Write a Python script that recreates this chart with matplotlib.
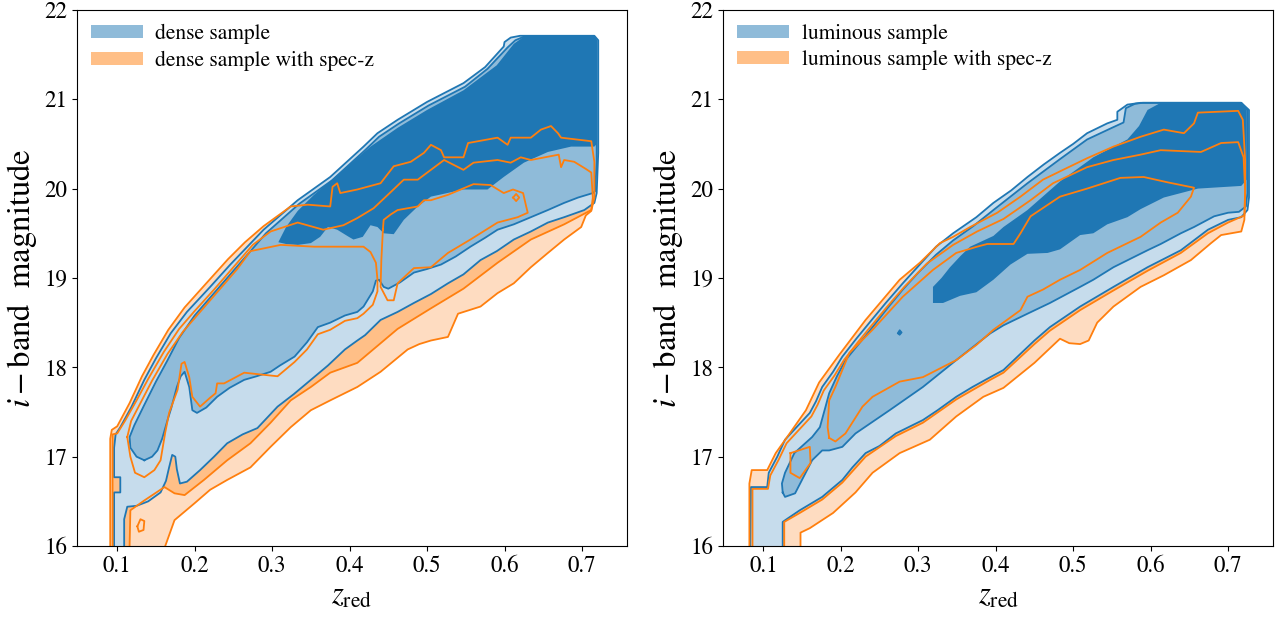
import matplotlib
matplotlib.use("Agg")
import matplotlib.pyplot as plt
from matplotlib.patches import Patch

plt.rcParams["font.family"] = "STIXGeneral"
plt.rcParams["mathtext.fontset"] = "stix"

# contour outlines, (z_red, i-band magnitude)
# ---------------- dense sample ----------------
dense_blue_1 = [
    (0.096, 15.9), (0.096, 16.6), (0.104, 16.6), (0.104, 16.77), (0.096, 16.77),
    (0.096, 17.1), (0.098, 17.25), (0.104, 17.33), (0.118, 17.55), (0.135, 17.86),
    (0.15, 18.1), (0.169, 18.38), (0.19, 18.62), (0.22, 18.9), (0.246, 19.15),
    (0.289, 19.54), (0.333, 19.87), (0.375, 20.13), (0.418, 20.47), (0.436, 20.62),
    (0.462, 20.77), (0.5, 20.97), (0.547, 21.18), (0.575, 21.36), (0.599, 21.59),
    (0.6, 21.64), (0.608, 21.69), (0.62, 21.71), (0.716, 21.71), (0.721, 21.66),
    (0.721, 20.4), (0.719, 19.95), (0.716, 19.84), (0.703, 19.76), (0.677, 19.68),
    (0.656, 19.62), (0.634, 19.52), (0.612, 19.43), (0.59, 19.3), (0.569, 19.2),
    (0.547, 19.04), (0.527, 18.94), (0.505, 18.82), (0.483, 18.72), (0.462, 18.62),
    (0.44, 18.53), (0.42, 18.36), (0.41, 18.3), (0.394, 18.2), (0.372, 18.02),
    (0.35, 17.86), (0.328, 17.7), (0.307, 17.56), (0.281, 17.32), (0.262, 17.25),
    (0.242, 17.15), (0.225, 17.0), (0.207, 16.85), (0.19, 16.72), (0.181, 16.7),
    (0.177, 16.86), (0.175, 17.0), (0.171, 17.02), (0.167, 16.88), (0.163, 16.73),
    (0.156, 16.6), (0.14, 16.5), (0.125, 16.45), (0.113, 16.44), (0.109, 16.3),
    (0.109, 15.9),
]
dense_blue_2 = [
    (0.135, 16.96), (0.125, 17.0), (0.117, 17.1), (0.116, 17.22), (0.122, 17.35),
    (0.135, 17.58), (0.15, 17.84), (0.165, 18.08), (0.18, 18.33), (0.2, 18.58),
    (0.228, 18.86), (0.252, 19.1), (0.292, 19.5), (0.335, 19.83), (0.377, 20.09),
    (0.42, 20.43), (0.438, 20.58), (0.464, 20.73), (0.502, 20.93), (0.549, 21.14),
    (0.578, 21.34), (0.604, 21.58), (0.614, 21.66), (0.625, 21.7), (0.716, 21.7),
    (0.719, 21.65), (0.719, 20.3), (0.717, 19.97), (0.714, 19.95), (0.695, 19.9),
    (0.677, 19.84), (0.656, 19.76), (0.634, 19.68), (0.612, 19.6), (0.591, 19.54),
    (0.575, 19.45), (0.556, 19.35), (0.537, 19.24), (0.518, 19.15), (0.5, 19.1),
    (0.483, 19.06), (0.465, 18.95), (0.45, 18.88), (0.444, 18.9), (0.438, 18.98),
    (0.434, 18.97), (0.43, 18.85), (0.418, 18.68), (0.41, 18.62), (0.394, 18.58),
    (0.375, 18.5), (0.359, 18.45), (0.345, 18.28), (0.329, 18.12), (0.31, 18.02),
    (0.298, 17.95), (0.28, 17.9), (0.264, 17.86), (0.245, 17.77), (0.229, 17.67),
    (0.215, 17.55), (0.203, 17.49), (0.197, 17.52), (0.193, 17.78), (0.187, 17.95),
    (0.182, 17.9), (0.177, 17.78), (0.17, 17.55), (0.165, 17.41), (0.158, 17.2),
    (0.152, 17.07), (0.145, 17.0),
]
dense_blue_3 = [
    (0.308, 19.4), (0.318, 19.57), (0.333, 19.75), (0.354, 19.93), (0.388, 20.18),
    (0.427, 20.47), (0.462, 20.68), (0.5, 20.88), (0.547, 21.1), (0.59, 21.38),
    (0.612, 21.62), (0.625, 21.7), (0.716, 21.7), (0.719, 21.65), (0.719, 20.5),
    (0.716, 20.47), (0.686, 20.47), (0.656, 20.41), (0.625, 20.29), (0.599, 20.13),
    (0.578, 19.99), (0.547, 19.99), (0.505, 19.91), (0.488, 19.8), (0.47, 19.65),
    (0.457, 19.49), (0.444, 19.5), (0.436, 19.57), (0.427, 19.59), (0.417, 19.46),
    (0.405, 19.43), (0.399, 19.46), (0.384, 19.54), (0.372, 19.57), (0.362, 19.46),
    (0.35, 19.39), (0.333, 19.37), (0.318, 19.38),
]
dense_orange_1 = [
    (0.091, 15.9), (0.091, 17.2), (0.093, 17.3), (0.1, 17.34), (0.116, 17.6),
    (0.132, 17.9), (0.147, 18.14), (0.166, 18.42), (0.187, 18.67), (0.216, 18.95),
    (0.243, 19.21), (0.265, 19.4), (0.289, 19.58), (0.324, 19.8),
    (0.346, 19.82), (0.375, 19.8), (0.378, 20.02), (0.384, 20.06), (0.388, 19.95),
    (0.41, 19.99), (0.44, 20.06), (0.457, 20.25), (0.479, 20.3), (0.496, 20.4),
    (0.505, 20.49), (0.518, 20.43), (0.522, 20.35), (0.547, 20.35), (0.553, 20.51),
    (0.591, 20.57), (0.604, 20.49), (0.608, 20.57), (0.634, 20.57), (0.647, 20.66),
    (0.66, 20.7), (0.669, 20.62), (0.673, 20.57), (0.712, 20.53), (0.716, 20.3),
    (0.716, 19.9), (0.712, 19.75), (0.705, 19.7), (0.699, 19.57), (0.677, 19.43),
    (0.656, 19.28), (0.634, 19.12), (0.612, 18.94), (0.591, 18.83), (0.569, 18.68),
    (0.54, 18.6), (0.527, 18.34), (0.505, 18.3), (0.49, 18.26), (0.475, 18.2),
    (0.44, 17.95), (0.41, 17.78), (0.375, 17.63), (0.35, 17.52), (0.324, 17.33),
    (0.298, 17.11), (0.272, 16.88), (0.242, 16.74), (0.22, 16.63), (0.2, 16.48),
    (0.174, 16.29), (0.162, 16.0), (0.162, 15.9),
]
dense_orange_2 = [
    (0.094, 15.9), (0.094, 17.25), (0.1, 17.26), (0.11, 17.4), (0.125, 17.63),
    (0.14, 17.87), (0.16, 18.17), (0.18, 18.43), (0.2, 18.63), (0.225, 18.87),
    (0.25, 19.12), (0.275, 19.37), (0.298, 19.52), (0.333, 19.62), (0.366, 19.54),
    (0.392, 19.59), (0.41, 19.67), (0.431, 19.78), (0.453, 19.96), (0.47, 20.1),
    (0.488, 20.1), (0.522, 20.32), (0.547, 20.21), (0.56, 20.29), (0.591, 20.32),
    (0.608, 20.29), (0.621, 20.35), (0.634, 20.32), (0.67, 20.38), (0.673, 20.24),
    (0.677, 20.32), (0.69, 20.3), (0.705, 20.22), (0.712, 20.18), (0.714, 19.9),
    (0.712, 19.76), (0.677, 19.6), (0.634, 19.43), (0.591, 19.17), (0.547, 18.88),
    (0.505, 18.66), (0.462, 18.43), (0.41, 18.05), (0.375, 17.94), (0.35, 17.78),
    (0.324, 17.63), (0.298, 17.38), (0.272, 17.15), (0.242, 16.96), (0.212, 16.74),
    (0.187, 16.57), (0.174, 16.59), (0.161, 16.66), (0.135, 16.51), (0.117, 16.4),
    (0.116, 16.0), (0.116, 15.9),
]
dense_orange_3a = [
    (0.113, 17.22), (0.118, 17.4), (0.13, 17.6), (0.145, 17.85), (0.165, 18.15),
    (0.185, 18.4), (0.21, 18.65), (0.235, 18.9), (0.255, 19.1), (0.272, 19.3),
    (0.311, 19.37), (0.354, 19.35), (0.418, 19.35), (0.427, 19.29), (0.434, 19.17),
    (0.436, 18.98), (0.436, 18.85), (0.43, 18.7), (0.418, 18.6), (0.41, 18.55),
    (0.394, 18.52), (0.375, 18.42), (0.359, 18.37), (0.345, 18.2), (0.329, 18.06),
    (0.307, 17.9), (0.285, 17.92), (0.264, 17.94), (0.238, 17.82), (0.229, 17.82),
    (0.227, 17.71), (0.22, 17.66), (0.207, 17.56), (0.197, 17.67), (0.193, 17.89),
    (0.187, 18.06), (0.183, 18.04), (0.178, 17.75), (0.167, 17.49), (0.162, 17.27),
    (0.156, 16.96), (0.148, 16.85), (0.135, 16.77), (0.123, 16.82), (0.117, 17.0),
    (0.113, 17.22),
]
dense_orange_3b = [
    (0.443, 19.54), (0.444, 19.65), (0.453, 19.71), (0.462, 19.76), (0.488, 19.8),
    (0.496, 19.87), (0.505, 19.87), (0.527, 19.93), (0.56, 20.05), (0.582, 20.04),
    (0.599, 19.95), (0.611, 19.99), (0.624, 19.95), (0.628, 19.8), (0.63, 19.73),
    (0.617, 19.68), (0.591, 19.62), (0.556, 19.43), (0.527, 19.28), (0.505, 19.12),
    (0.483, 19.11), (0.462, 18.94), (0.457, 18.75), (0.449, 18.75), (0.44, 18.9),
    (0.441, 19.2), (0.443, 19.54),
]
dense_orange_dots = [
    [(0.611, 19.9), (0.615, 19.94), (0.619, 19.9), (0.615, 19.86), (0.611, 19.9)],
    [(0.126, 16.22), (0.13, 16.3), (0.135, 16.28), (0.134, 16.18), (0.128, 16.16),
     (0.126, 16.22)],
]

# ---------------- luminous sample ----------------
lum_blue_1 = [
    (0.083, 15.9), (0.084, 16.66), (0.105, 16.66), (0.107, 16.82), (0.118, 17.0),
    (0.128, 17.19), (0.145, 17.35), (0.16, 17.49), (0.168, 17.62), (0.176, 17.78),
    (0.19, 17.95), (0.202, 18.12), (0.22, 18.32), (0.237, 18.5), (0.258, 18.72),
    (0.28, 18.94), (0.302, 19.15), (0.323, 19.35), (0.345, 19.5), (0.375, 19.68),
    (0.397, 19.84), (0.42, 19.98), (0.441, 20.13), (0.462, 20.27), (0.483, 20.4),
    (0.5, 20.5), (0.518, 20.62), (0.544, 20.73), (0.557, 20.77), (0.557, 20.86),
    (0.57, 20.94), (0.587, 20.96), (0.717, 20.96), (0.727, 20.88), (0.727, 19.9),
    (0.725, 19.76), (0.717, 19.68), (0.7, 19.65), (0.674, 19.54), (0.639, 19.31),
    (0.596, 19.12), (0.552, 18.9), (0.509, 18.68), (0.47, 18.45), (0.45, 18.3),
    (0.41, 17.97), (0.393, 17.89), (0.37, 17.78), (0.349, 17.67), (0.325, 17.52),
    (0.306, 17.41), (0.271, 17.26), (0.25, 17.12), (0.232, 17.04), (0.215, 16.88),
    (0.202, 16.74), (0.176, 16.55), (0.147, 16.4), (0.13, 16.3), (0.125, 16.27),
    (0.125, 15.9),
]
lum_blue_2 = [
    (0.125, 16.6), (0.124, 16.7), (0.128, 16.82), (0.14, 17.04), (0.163, 17.22),
    (0.173, 17.33), (0.18, 17.55), (0.185, 17.71), (0.195, 17.9), (0.206, 18.08),
    (0.225, 18.28), (0.241, 18.45), (0.26, 18.66), (0.28, 18.87), (0.3, 19.06),
    (0.323, 19.26), (0.345, 19.42), (0.371, 19.58), (0.397, 19.76), (0.441, 20.06),
    (0.483, 20.33), (0.518, 20.55), (0.55, 20.68), (0.565, 20.74), (0.568, 20.9),
    (0.58, 20.95), (0.59, 20.96), (0.717, 20.96), (0.725, 20.88), (0.725, 19.95),
    (0.723, 19.8), (0.714, 19.74), (0.7, 19.73), (0.682, 19.69), (0.656, 19.57),
    (0.639, 19.5), (0.613, 19.38), (0.596, 19.31), (0.552, 19.12), (0.526, 18.98),
    (0.509, 18.9), (0.47, 18.72), (0.441, 18.6), (0.41, 18.47), (0.393, 18.38),
    (0.349, 18.08), (0.306, 17.78), (0.263, 17.52), (0.219, 17.26), (0.202, 17.11),
    (0.185, 17.07), (0.176, 17.07), (0.163, 16.96), (0.141, 16.59), (0.128, 16.55),
    (0.125, 16.6),
]
lum_blue_3 = [
    (0.319, 18.72), (0.319, 18.9), (0.33, 19.0), (0.341, 19.12), (0.355, 19.25),
    (0.367, 19.35), (0.397, 19.47), (0.41, 19.57), (0.441, 19.76), (0.483, 20.08),
    (0.526, 20.35), (0.57, 20.55), (0.585, 20.7), (0.596, 20.88), (0.613, 20.96),
    (0.717, 20.96), (0.724, 20.9), (0.724, 20.1), (0.717, 20.03), (0.661, 20.0),
    (0.617, 19.9), (0.587, 19.77), (0.57, 19.68), (0.544, 19.6), (0.526, 19.5),
    (0.509, 19.48), (0.483, 19.32), (0.467, 19.28), (0.441, 19.27), (0.419, 19.15),
    (0.397, 18.98), (0.375, 18.84), (0.354, 18.8), (0.332, 18.72),
]
lum_blue_dot = [(0.273, 18.38), (0.276, 18.42), (0.279, 18.39), (0.276, 18.36)]
lum_orange_1 = [
    (0.082, 15.9), (0.082, 16.7), (0.085, 16.85), (0.105, 16.85), (0.116, 17.04),
    (0.134, 17.26), (0.155, 17.52), (0.172, 17.83), (0.198, 18.14), (0.232, 18.53),
    (0.276, 18.98), (0.302, 19.17), (0.328, 19.39), (0.345, 19.46), (0.367, 19.57),
    (0.402, 19.73), (0.432, 19.91), (0.461, 20.1), (0.487, 20.21), (0.518, 20.34),
    (0.552, 20.47), (0.587, 20.58), (0.617, 20.66), (0.643, 20.62), (0.656, 20.73),
    (0.661, 20.85), (0.713, 20.87), (0.719, 20.77), (0.722, 20.32), (0.722, 19.9),
    (0.721, 19.65), (0.717, 19.52), (0.691, 19.48), (0.678, 19.39), (0.652, 19.2),
    (0.617, 19.03), (0.587, 18.9), (0.552, 18.68), (0.531, 18.5), (0.52, 18.3),
    (0.509, 18.26), (0.495, 18.27), (0.483, 18.32), (0.45, 18.05), (0.41, 17.77),
    (0.384, 17.67), (0.349, 17.45), (0.315, 17.19), (0.276, 17.04), (0.241, 16.82),
    (0.219, 16.6), (0.19, 16.37), (0.16, 16.2), (0.148, 16.15), (0.148, 15.9),
]
lum_orange_2 = [
    (0.086, 15.9), (0.086, 16.64), (0.106, 16.64), (0.109, 16.79), (0.12, 16.97),
    (0.13, 17.15), (0.147, 17.31), (0.162, 17.45), (0.17, 17.58), (0.178, 17.74),
    (0.192, 17.91), (0.204, 18.08), (0.222, 18.28), (0.239, 18.46), (0.26, 18.68),
    (0.282, 18.9), (0.311, 19.16), (0.345, 19.37), (0.376, 19.52), (0.41, 19.66),
    (0.445, 19.87), (0.474, 20.06), (0.518, 20.24), (0.552, 20.32), (0.587, 20.38),
    (0.613, 20.43), (0.665, 20.41), (0.691, 20.51), (0.713, 20.52), (0.72, 20.35),
    (0.722, 19.98), (0.721, 19.7), (0.7, 19.62), (0.674, 19.5), (0.639, 19.28),
    (0.596, 19.08), (0.552, 18.86), (0.509, 18.64), (0.47, 18.41), (0.45, 18.26),
    (0.41, 17.94), (0.393, 17.86), (0.349, 17.64), (0.306, 17.38), (0.271, 17.23),
    (0.232, 17.0), (0.202, 16.71), (0.176, 16.52), (0.147, 16.37), (0.127, 16.27),
    (0.127, 15.9),
]
lum_orange_3 = [
    (0.185, 17.21), (0.183, 17.33), (0.185, 17.63), (0.193, 17.78), (0.211, 18.16),
    (0.241, 18.42), (0.28, 18.79), (0.319, 19.09), (0.349, 19.28), (0.376, 19.35),
    (0.389, 19.38), (0.423, 19.38), (0.432, 19.5), (0.445, 19.69), (0.483, 19.91),
    (0.518, 20.0), (0.561, 20.12), (0.591, 20.13), (0.622, 20.07), (0.656, 20.01),
    (0.652, 19.91), (0.635, 19.73), (0.613, 19.62), (0.587, 19.46), (0.544, 19.28),
    (0.509, 19.09), (0.483, 18.98), (0.461, 18.87), (0.441, 18.79), (0.432, 18.64),
    (0.397, 18.42), (0.375, 18.25), (0.349, 18.08), (0.306, 17.89), (0.276, 17.84),
    (0.241, 17.67), (0.228, 17.56), (0.206, 17.26), (0.193, 17.17), (0.185, 17.21),
]
lum_orange_dots = [
    [(0.135, 17.04), (0.16, 17.11), (0.161, 16.93), (0.147, 16.76), (0.135, 16.82),
     (0.135, 17.04)],
]

BLUE = "#1f77b4"
ORANGE = "#ff7f0e"
BLUE_FILLS = ["#c6dcec", "#8fbbd9", "#1f77b4"]
ORANGE_FILLS = ["#fedcc1", "#ffbf87"]


def _xy(pts):
    return [p[0] for p in pts], [p[1] for p in pts]


def _closed(pts):
    return pts + [pts[0]]


def draw_panel(ax, blue, orange, orange_lines, blue_extra, label):
    for pts, col in zip(orange, ORANGE_FILLS):
        ax.fill(*_xy(pts), color=col, lw=0)
    for pts, col in zip(blue, BLUE_FILLS):
        ax.fill(*_xy(pts), color=col, lw=0)
    for pts in blue_extra:
        ax.fill(*_xy(pts), color=BLUE, lw=0.8, edgecolor=BLUE)
    for pts in blue[:2]:
        ax.plot(*_xy(_closed(pts)), color=BLUE, lw=1.3)
    for pts in orange + orange_lines:
        ax.plot(*_xy(_closed(pts)), color=ORANGE, lw=1.3)

    ax.set_xlim(0.048, 0.758)
    ax.set_ylim(16, 22)
    ax.set_xticks([0.1, 0.2, 0.3, 0.4, 0.5, 0.6, 0.7])
    ax.set_yticks([16, 17, 18, 19, 20, 21, 22])
    ax.tick_params(labelsize=16.5)
    ax.set_xlabel(r"$z_{\rm red}$", fontsize=22)
    ax.set_ylabel(r"$i-$band  magnitude", fontsize=23.5)

    handles = [Patch(facecolor=BLUE_FILLS[1]), Patch(facecolor=ORANGE_FILLS[1])]
    ax.legend(handles, [f"{label} sample", f"{label} sample with spec-z"],
              loc="upper left", frameon=False, fontsize=15.5,
              handlelength=2.4, handleheight=0.56, handletextpad=0.6,
              labelspacing=0.3, borderaxespad=0.25)


fig = plt.figure(figsize=(12.82, 6.17), dpi=100)
ax1 = fig.add_axes([0.060, 0.115, 0.429, 0.869])
ax2 = fig.add_axes([0.564, 0.115, 0.429, 0.869])

draw_panel(ax1, [dense_blue_1, dense_blue_2, dense_blue_3],
           [dense_orange_1, dense_orange_2],
           [dense_orange_3a, dense_orange_3b] + dense_orange_dots, [], "dense")
draw_panel(ax2, [lum_blue_1, lum_blue_2, lum_blue_3],
           [lum_orange_1, lum_orange_2],
           [lum_orange_3] + lum_orange_dots, [lum_blue_dot], "luminous")

fig.savefig("out.png", dpi=100)
